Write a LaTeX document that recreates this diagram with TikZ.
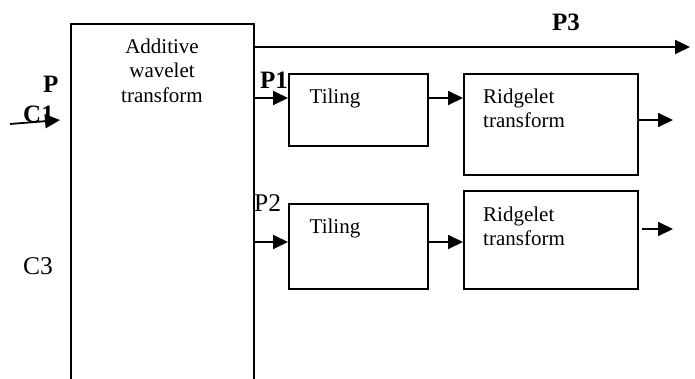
\documentclass[tikz,border=0pt]{standalone}
\usepackage{fontspec}
\setmainfont{Liberation Serif}
\usetikzlibrary{arrows.meta}
\begin{document}
\begin{tikzpicture}[x=1pt,y=-1pt,
  box/.style={draw, line width=1.8pt, inner sep=0pt, anchor=north west},
  flow/.style={line width=1.8pt, -{Triangle[length=15pt,width=14pt]}},
  body/.style={font=\fontsize{21}{24.5}\selectfont, inner sep=0pt},
  tag/.style={font=\fontsize{25.5}{28}\selectfont, inner sep=0pt, anchor=base west},
  btag/.style={font=\fontsize{25}{28}\selectfont\bfseries, inner sep=0pt, anchor=base west}]
\useasboundingbox (0,0) rectangle (695,378);
\clip (0,0) rectangle (695,378);

% main block, open towards the bottom edge
\node[box, minimum width=183pt, minimum height=380pt] (awt) at (70,23) {};
\node[body, align=center, anchor=north] (awttext) at (162,38.5) {Additive\\wavelet\\transform};

% upper branch
\node[box, minimum width=139pt, minimum height=72pt] (t1) at (288,73) {};
\node[body, anchor=base] (t1text) at (335,103) {Tiling};
\node[box, minimum width=174pt, minimum height=101pt] (r1) at (463,73) {};
\node[body, align=left, anchor=north west] (r1text) at (483,88.7) {Ridgelet\\transform};

% lower branch
\node[box, minimum width=139pt, minimum height=85pt] (t2) at (288,203) {};
\node[body, anchor=base] (t2text) at (335,233) {Tiling};
\node[box, minimum width=174pt, minimum height=98pt] (r2) at (463,190) {};
\node[body, align=left, anchor=north west] (r2text) at (483,206.7) {Ridgelet\\transform};

% connector end points
\coordinate (src) at (10,124);
\coordinate (inp) at (60,120);
\coordinate (p3end) at (690,47);
\coordinate (in1) at (288,98);
\coordinate (out1) at (673,120);
\coordinate (in2) at (288,242);
\coordinate (out2s) at (642,229);
\coordinate (out2) at (673,229);

% connectors
\draw[flow] (src) -- (inp);
\draw[flow] (p3end -| awt.east) -- (p3end);
\draw[flow] (in1 -| awt.east) -- (in1);
\draw[flow] (t1.east |- in1) -- (r1.west |- in1);
\draw[flow] (r1.east |- out1) -- (out1);
\draw[flow] (in2 -| awt.east) -- (in2);
\draw[flow] (t2.east |- in2) -- (r2.west |- in2);
\draw[flow] (out2s) -- (out2);

% labels
\node[btag] (lp) at (43,92) {P};
\node[btag] (lc1) at (23,122) {C1};
\node[tag] (lc3) at (23,274) {C3};
\node[btag] (lp1) at (260,88) {P1};
\node[tag] (lp2) at (254,211) {P2};
\node[btag] (lp3) at (552,30) {P3};
\end{tikzpicture}
\end{document}
